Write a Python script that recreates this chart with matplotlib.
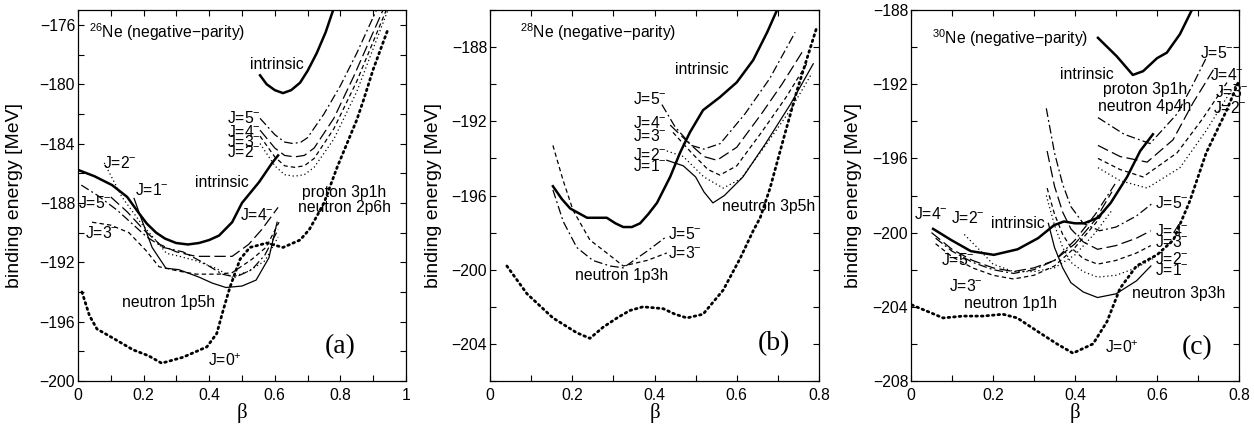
import matplotlib
matplotlib.use("Agg")
import matplotlib.pyplot as plt
import numpy as np

plt.rcParams['font.family'] = ['Liberation Sans', 'DejaVu Sans']
plt.rcParams['mathtext.fontset'] = 'custom'
plt.rcParams['mathtext.rm'] = 'Liberation Sans'
plt.rcParams['mathtext.it'] = 'Liberation Sans:italic'
plt.rcParams['mathtext.bf'] = 'Liberation Sans:bold'

# ---------------- Panel (a): 26Ne ----------------
a_J0_x = [0.012, 0.035, 0.058, 0.098, 0.168, 0.215, 0.255, 0.32, 0.393, 0.423, 0.443, 0.463, 0.494, 0.524, 0.576, 0.625, 0.677, 0.705, 0.728, 0.75, 0.79, 0.82, 0.85, 0.87, 0.90, 0.945]
a_J0_y = [-194.0, -195.6, -196.5, -197.0, -197.9, -198.3, -198.8, -198.4, -197.7, -196.8, -195.2, -193.7, -191.8, -191.0, -190.7, -191.0, -190.5, -189.8, -188.9, -188.0, -185.6, -184.0, -182.4, -181.1, -179.0, -176.3]
a_int1_x = [0.003, 0.05, 0.104, 0.15, 0.186, 0.21, 0.238, 0.265, 0.299, 0.335, 0.369, 0.40, 0.43, 0.47, 0.50, 0.552, 0.592, 0.61]
a_int1_y = [-185.8, -186.2, -186.8, -187.6, -188.7, -189.4, -190.0, -190.4, -190.7, -190.8, -190.7, -190.5, -190.2, -189.3, -188.0, -186.6, -185.3, -184.8]
a_int2_x = [0.555, 0.575, 0.60, 0.625, 0.65, 0.677, 0.70, 0.728, 0.755, 0.778]
a_int2_y = [-179.4, -180.0, -180.4, -180.6, -180.4, -179.9, -179.1, -177.9, -176.5, -175.0]
# proton 3p1h / neutron 2p6h band
a_up_x = {5: [0.555, 0.60, 0.63, 0.656, 0.68, 0.70, 0.75, 0.80, 0.85, 0.91],
          4: [0.555, 0.60, 0.63, 0.66, 0.69, 0.72, 0.78, 0.84, 0.93],
          3: [0.555, 0.60, 0.63, 0.66, 0.69, 0.72, 0.78, 0.85, 0.94],
          2: [0.555, 0.60, 0.63, 0.66, 0.69, 0.72, 0.78, 0.85, 0.945]}
a_up_y = {5: [-182.3, -183.4, -183.9, -184.0, -183.9, -183.6, -182.0, -180.1, -177.9, -175.0],
          4: [-183.1, -184.3, -184.8, -184.9, -184.8, -184.3, -182.3, -179.5, -175.0],
          3: [-183.5, -184.9, -185.5, -185.6, -185.5, -185.0, -183.0, -179.8, -175.0],
          2: [-184.0, -185.5, -186.1, -186.2, -186.1, -185.6, -183.7, -180.5, -175.0]}
# neutron 1p5h band
a_lo_x = {1: [0.171, 0.192, 0.226, 0.268, 0.308, 0.369, 0.409, 0.451, 0.50, 0.543, 0.582, 0.607],
          2: [0.08, 0.134, 0.19, 0.24, 0.27, 0.31, 0.36, 0.42, 0.47, 0.52, 0.57, 0.61],
          3: [0.043, 0.10, 0.155, 0.207, 0.247, 0.308, 0.36, 0.43, 0.47, 0.53, 0.573, 0.613],
          4: [0.10, 0.15, 0.20, 0.25, 0.30, 0.36, 0.42, 0.47, 0.52, 0.56, 0.61],
          5: [0.01, 0.06, 0.12, 0.17, 0.21, 0.26, 0.32, 0.38, 0.44, 0.48, 0.53, 0.57, 0.61]}
a_lo_y = {1: [-187.7, -189.0, -191.0, -192.4, -192.5, -193.0, -193.4, -193.7, -193.6, -193.2, -191.7, -189.3],
          2: [-185.3, -187.6, -189.3, -190.6, -191.4, -191.6, -191.9, -192.4, -193.0, -192.6, -191.9, -190.3],
          3: [-189.3, -189.5, -190.0, -191.2, -192.3, -192.6, -192.8, -192.8, -192.7, -191.8, -191.0, -189.3],
          4: [-187.6, -188.6, -189.8, -190.8, -191.3, -191.6, -191.6, -191.6, -190.8, -189.8, -188.3],
          5: [-186.8, -187.5, -188.5, -189.5, -190.3, -191.0, -191.3, -192.0, -192.8, -193.0, -192.5, -191.5, -189.8]}

# ---------------- Panel (b): 28Ne ----------------
b_J0_x = [0.041, 0.09, 0.153, 0.211, 0.243, 0.275, 0.309, 0.34, 0.372, 0.421, 0.45, 0.479, 0.518, 0.567, 0.608, 0.64, 0.657, 0.681, 0.713, 0.747, 0.795]
b_J0_y = [-199.8, -201.3, -202.6, -203.4, -203.7, -203.1, -202.6, -202.2, -202.0, -202.1, -202.4, -202.6, -202.4, -201.1, -199.4, -197.9, -197.2, -195.6, -193.0, -190.3, -186.9]
b_int_x = [0.153, 0.175, 0.195, 0.236, 0.26, 0.284, 0.305, 0.324, 0.345, 0.365, 0.385, 0.406, 0.438, 0.462, 0.486, 0.518, 0.559, 0.60, 0.64, 0.674, 0.698]
b_int_y = [-195.5, -196.2, -196.7, -197.2, -197.2, -197.2, -197.5, -197.7, -197.7, -197.5, -197.0, -196.4, -195.0, -193.7, -192.6, -191.4, -190.7, -189.9, -188.7, -187.2, -186.0]
# neutron 3p5h band
b_up_x = {5: [0.418, 0.45, 0.49, 0.52, 0.56, 0.62, 0.68, 0.742],
          4: [0.438, 0.48, 0.52, 0.552, 0.60, 0.66, 0.71, 0.761],
          3: [0.445, 0.49, 0.53, 0.559, 0.60, 0.66, 0.72, 0.773],
          2: [0.43, 0.47, 0.52, 0.567, 0.61, 0.67, 0.73, 0.783],
          1: [0.43, 0.47, 0.50, 0.52, 0.542, 0.57, 0.615, 0.67, 0.73, 0.786]}
b_up_y = {5: [-191.1, -192.3, -193.3, -193.5, -193.2, -191.6, -189.7, -187.2],
          4: [-192.2, -193.1, -193.9, -194.1, -193.4, -191.6, -190.0, -188.2],
          3: [-192.6, -193.7, -194.6, -194.9, -194.4, -192.6, -190.7, -188.8],
          2: [-193.6, -193.9, -195.0, -195.6, -195.1, -193.3, -191.4, -189.4],
          1: [-194.1, -194.4, -195.0, -195.8, -196.4, -196.0, -195.0, -193.2, -191.1, -188.9]}
# neutron 1p3h band
b_lo_x = {3: [0.153, 0.178, 0.202, 0.243, 0.284, 0.324, 0.382, 0.43],
          5: [0.153, 0.178, 0.211, 0.25, 0.292, 0.324, 0.382, 0.43]}
b_lo_y = {3: [-193.3, -195.2, -196.8, -198.4, -199.1, -199.8, -199.5, -199.1],
          5: [-195.7, -197.4, -198.8, -199.5, -199.8, -199.9, -199.0, -198.2]}

# ---------------- Panel (c): 30Ne ----------------
c_J0_x = [0.002, 0.046, 0.078, 0.127, 0.176, 0.224, 0.259, 0.307, 0.356, 0.395, 0.444, 0.478, 0.51, 0.55, 0.60, 0.64, 0.68, 0.72, 0.77, 0.80]
c_J0_y = [-203.9, -204.3, -204.6, -204.5, -204.5, -204.4, -204.6, -205.3, -206.0, -206.5, -206.0, -204.8, -203.0, -201.8, -201.2, -200.4, -198.3, -195.7, -193.4, -191.8]
c_int1_x = [0.054, 0.098, 0.146, 0.202, 0.26, 0.31, 0.349, 0.373, 0.40, 0.422, 0.456, 0.487, 0.527, 0.559, 0.59]
c_int1_y = [-199.8, -200.4, -201.0, -201.2, -200.9, -200.3, -199.6, -199.4, -199.5, -199.5, -199.2, -198.4, -197.0, -195.6, -194.7]
c_int2_x = [0.456, 0.502, 0.541, 0.566, 0.60, 0.624, 0.656, 0.685]
c_int2_y = [-189.5, -190.5, -191.5, -191.3, -190.6, -190.3, -189.3, -188.0]
# proton 3p1h / neutron 4p4h band
c_up_x = {5: [0.456, 0.52, 0.583, 0.649, 0.688, 0.722],
          4: [0.456, 0.51, 0.576, 0.639, 0.688, 0.741],
          3: [0.456, 0.51, 0.566, 0.649, 0.71, 0.771],
          2: [0.456, 0.51, 0.576, 0.656, 0.72, 0.785]}
c_up_y = {5: [-193.8, -194.7, -195.2, -193.6, -192.0, -190.5],
          4: [-195.3, -195.9, -196.2, -195.0, -193.0, -191.1],
          3: [-196.0, -196.6, -197.0, -195.7, -193.9, -191.9],
          2: [-196.5, -197.2, -197.6, -196.5, -194.5, -192.2]}
# neutron 3p3h band
c_mid_x = {5: [0.33, 0.35, 0.37, 0.39, 0.42, 0.46, 0.50, 0.55, 0.59],
           4: [0.332, 0.35, 0.37, 0.39, 0.42, 0.455, 0.50, 0.55, 0.585],
           3: [0.332, 0.35, 0.37, 0.39, 0.42, 0.455, 0.50, 0.55, 0.585],
           2: [0.33, 0.35, 0.37, 0.39, 0.42, 0.455, 0.50, 0.55, 0.59],
           1: [0.335, 0.35, 0.37, 0.39, 0.42, 0.455, 0.50, 0.55, 0.585]}
c_mid_y = {5: [-193.3, -195.7, -197.4, -198.6, -199.5, -199.9, -199.7, -199.1, -198.4],
           4: [-195.6, -197.5, -198.9, -199.8, -200.5, -200.9, -200.7, -200.3, -199.9],
           3: [-197.6, -199.0, -200.1, -200.8, -201.4, -201.7, -201.5, -201.1, -200.7],
           2: [-198.0, -199.6, -200.8, -201.6, -202.1, -202.4, -202.3, -201.9, -201.4],
           1: [-199.5, -200.8, -201.9, -202.7, -203.2, -203.5, -203.3, -202.6, -201.8]}
# neutron 1p1h band
c_lo_x = {4: [0.05, 0.10, 0.15, 0.20, 0.25, 0.30, 0.35, 0.40, 0.45, 0.49],
          5: [0.06, 0.10, 0.15, 0.20, 0.25, 0.30, 0.35, 0.40, 0.45, 0.50],
          3: [0.06, 0.10, 0.15, 0.20, 0.25, 0.30, 0.35, 0.40, 0.45, 0.50],
          2: [0.13, 0.17, 0.20, 0.25, 0.30, 0.35, 0.40, 0.45, 0.49]}
c_lo_y = {4: [-200.0, -200.9, -201.5, -201.9, -202.1, -201.9, -201.5, -200.6, -199.3, -197.8],
          5: [-200.3, -201.0, -201.6, -202.0, -202.2, -202.0, -201.5, -200.4, -199.0, -197.3],
          3: [-200.6, -201.3, -201.9, -202.3, -202.5, -202.3, -201.8, -200.8, -199.5, -198.0],
          2: [-200.1, -201.0, -201.7, -202.1, -202.1, -201.9, -201.2, -200.0, -198.8]}

# axis settings
xlims = [(0, 1), (0, 0.8), (0, 0.8)]
ylims = [(-200, -175), (-206, -186), (-208, -188)]
xtick_vals = [[0, 0.2, 0.4, 0.6, 0.8, 1.0], [0, 0.2, 0.4, 0.6, 0.8], [0, 0.2, 0.4, 0.6, 0.8]]
xtick_labels = [['0', '0.2', '0.4', '0.6', '0.8', '1'], ['0', '0.2', '0.4', '0.6', '0.8'], ['0', '0.2', '0.4', '0.6', '0.8']]
ytick_vals = [[-200, -196, -192, -188, -184, -180, -176], [-204, -200, -196, -192, -188], [-208, -204, -200, -196, -192, -188]]
panel_tags = ['(a)', '(b)', '(c)']
titles = [r'$^{26}$Ne (negative−parity)', r'$^{28}$Ne (negative−parity)', r'$^{30}$Ne (negative−parity)']

# line styles per J
STY = {1: dict(ls='-', lw=0.9),
       2: dict(ls=(0, (1, 2.2)), lw=0.9),
       3: dict(ls=(0, (3.5, 2.5)), lw=0.9),
       4: dict(ls=(0, (9, 3.5)), lw=0.9),
       5: dict(ls=(0, (7, 2.5, 1.5, 2.5)), lw=0.9)}
THICK = dict(color='black', lw=1.8, ls='-', solid_joinstyle='round')
J0STY = dict(color='black', lw=2.0, ls=(0, (0.6, 1.4)), dash_capstyle='round')

fig = plt.figure(figsize=(12.54, 4.24), dpi=100)
W, H = 1254, 424
boxes = [(78, 406), (490, 819), (911, 1239)]
ylabel_x = [-0.168, -0.146, -0.149]
top_px, bot_px = 10, 381
axes = []
for (l, r) in boxes:
    ax = fig.add_axes([l / W, 1 - bot_px / H, (r - l) / W, (bot_px - top_px) / H])
    axes.append(ax)

def band(ax, xs, ys):
    for j in xs:
        ax.plot(xs[j], ys[j], color='black', solid_joinstyle='round', **STY[j])

# panel a
ax = axes[0]
ax.plot(a_J0_x, a_J0_y, **J0STY)
ax.plot(a_int1_x, a_int1_y, **THICK)
ax.plot(a_int2_x, a_int2_y, **THICK)
band(ax, a_up_x, a_up_y)
band(ax, a_lo_x, a_lo_y)

# panel b
ax = axes[1]
ax.plot(b_J0_x, b_J0_y, **J0STY)
ax.plot(b_int_x, b_int_y, **THICK)
band(ax, b_up_x, b_up_y)
band(ax, b_lo_x, b_lo_y)

# panel c
ax = axes[2]
ax.plot(c_J0_x, c_J0_y, **J0STY)
ax.plot(c_int1_x, c_int1_y, **THICK)
ax.plot(c_int2_x, c_int2_y, **THICK)
band(ax, c_up_x, c_up_y)
band(ax, c_mid_x, c_mid_y)
band(ax, c_lo_x, c_lo_y)

FS = 11.3
def jl(n, sign='-'):
    return r'J=%d$^{%s}$' % (n, sign)

t = dict(fontsize=FS, va='center')
# annotations panel a
ax = axes[0]
ax.text(0.525, -178.7, 'intrinsic', **t)
ax.text(0.454, -182.3, jl(5), **t)
ax.text(0.454, -183.2, jl(4), **t)
ax.text(0.454, -183.9, jl(3), **t)
ax.text(0.454, -184.6, jl(2), **t)
ax.text(0.357, -186.6, 'intrinsic', **t)
ax.text(0.811, -187.3, 'proton 3p1h', ha='center', **t)
ax.text(0.811, -188.3, 'neutron 2p6h', ha='center', **t)
ax.text(0.077, -185.3, jl(2), **t)
ax.text(0.174, -187.1, jl(1), **t)
ax.text(0.0, -188.0, jl(5), **t)
ax.text(0.02, -190.0, jl(3), **t)
ax.text(0.494, -188.8, jl(4), **t)
ax.text(0.134, -194.7, 'neutron 1p5h', **t)
ax.text(0.397, -198.6, jl(0, '+'), **t)

# annotations panel b
ax = axes[1]
ax.text(0.45, -189.2, 'intrinsic', **t)
ax.text(0.348, -190.8, jl(5), **t)
ax.text(0.348, -192.1, jl(4), **t)
ax.text(0.348, -192.8, jl(3), **t)
ax.text(0.348, -193.8, jl(2), **t)
ax.text(0.348, -194.4, jl(1), **t)
ax.text(0.564, -196.6, 'neutron 3p5h', **t)
ax.text(0.433, -198.1, jl(5), **t)
ax.text(0.433, -199.1, jl(3), **t)
ax.text(0.207, -200.3, 'neutron 1p3h', **t)

# annotations panel c
ax = axes[2]
ax.text(0.363, -191.5, 'intrinsic', **t)
ax.text(0.571, -192.3, 'proton 3p1h', ha='center', **t)
ax.text(0.571, -193.2, 'neutron 4p4h', ha='center', **t)
ax.text(0.705, -190.3, jl(5), **t)
ax.text(0.73, -191.5, jl(4), **t)
ax.text(0.742, -192.4, jl(3), **t)
ax.text(0.737, -193.3, jl(2), **t)
ax.text(0.595, -198.4, jl(5), **t)
ax.text(0.595, -199.9, jl(4), **t)
ax.text(0.595, -200.5, jl(3), **t)
ax.text(0.595, -201.4, jl(2), **t)
ax.text(0.595, -202.0, jl(1), **t)
ax.text(0.539, -203.3, 'neutron 3p3h', **t)
ax.text(0.007, -199.0, jl(4), **t)
ax.text(0.098, -199.2, jl(2), **t)
ax.text(0.195, -199.5, 'intrinsic', **t)
ax.text(0.073, -201.5, jl(5), **t)
ax.text(0.093, -202.9, jl(3), **t)
ax.text(0.129, -203.8, 'neutron 1p1h', **t)
ax.text(0.473, -206.2, jl(0, '+'), **t)

tag_pos = [(0.753, -197.7), (0.65, -204.0), (0.661, -206.2)]
title_pos = [(0.035, -176.5), (0.073, -187.2), (0.051, -189.5)]

for i, ax in enumerate(axes):
    ax.set_xlim(*xlims[i])
    ax.set_ylim(*ylims[i])
    ax.set_xticks(xtick_vals[i])
    ax.set_xticklabels(xtick_labels[i])
    ax.set_yticks(ytick_vals[i])
    ax.set_xticks(np.arange(xlims[i][0], xlims[i][1] + 1e-9, 0.1), minor=True)
    ax.set_yticks(np.arange(ylims[i][0], ylims[i][1] + 1e-9, 2), minor=True)
    ax.tick_params(which='both', direction='in', top=True, right=True, length=4, width=0.8, labelsize=FS)
    ax.tick_params(axis='x', pad=5)
    ax.tick_params(axis='y', pad=2)
    for s in ax.spines.values():
        s.set_linewidth(0.9)
    ax.set_ylabel('binding energy [MeV]', fontsize=14)
    ax.yaxis.set_label_coords(ylabel_x[i], 0.5)
    ax.set_xlabel('β', fontsize=15, family='Liberation Serif', labelpad=0)
    ax.text(tag_pos[i][0], tag_pos[i][1], panel_tags[i], fontsize=20, family='Liberation Serif', va='center')
    tx, ty = title_pos[i]
    ax.text(tx, ty, titles[i], fontsize=FS, va='center')

fig.savefig('out.png', dpi=100)
